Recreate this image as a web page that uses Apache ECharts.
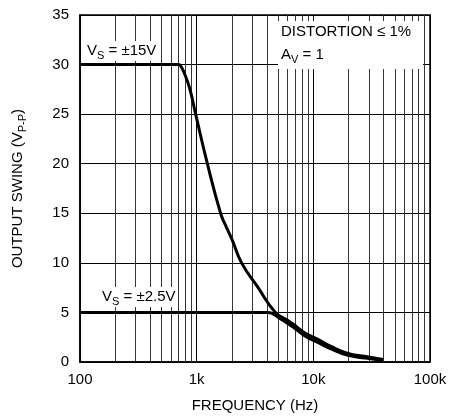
<!DOCTYPE html>
<html>
<head>
<meta charset="utf-8">
<script src="https://cdn.jsdelivr.net/npm/echarts@6/dist/echarts.min.js"></script>
<style>
html,body{margin:0;padding:0;background:#fff;}
#c{width:450px;height:418px;}
</style>
</head>
<body>
<div id="c"></div>
<script>
// Data
const freq15 = [100, 700, 735, 779, 871, 980, 1235, 1603, 1750, 2018, 2427, 3320, 4732, 6000, 6745, 8544, 10820, 14000, 19500, 28000, 39650];
const swing15 = [30, 30, 29.8, 29.2, 27.6, 25, 20, 15, 13.9, 12.3, 10, 7.6, 5, 4.2, 3.8, 2.9, 2.3, 1.6, 0.9, 0.55, 0.25];
const freq25 = [100, 4000, 4250, 4600, 4898, 5500, 6745, 8544, 10820, 14000, 19500, 28000, 39650];
const swing25 = [5, 5, 4.97, 4.8, 4.6, 4.2, 3.5, 2.6, 2.0, 1.35, 0.7, 0.4, 0.15];
const xTickValues = [100, 1000, 10000, 100000];
const xTickLabels = ['100', '1k', '10k', '100k'];
const minorFreqs = [200,300,400,500,600,700,800,900,2000,3000,4000,5000,6000,7000,8000,9000,20000,30000,40000,50000,60000,70000,80000,90000];

const FONT = 'Liberation Sans, Arial, sans-serif';
const chart = echarts.init(document.getElementById('c'), null, {renderer: 'canvas'});
const pair = (xs, ys) => xs.map((x, i) => [x, ys[i]]);
const sub = {fontSize: 11, fontFamily: FONT, color: '#000', verticalAlign: 'bottom', lineHeight: 11};

chart.setOption({
  animation: false,
  backgroundColor: '#fff',
  grid: {left: 79, right: 20, top: 15, bottom: 52, show: true, borderColor: '#000', borderWidth: 1.5, backgroundColor: 'transparent'},
  xAxis: {
    type: 'log', logBase: 10, min: 100, max: 100000,
    name: 'FREQUENCY (Hz)', nameLocation: 'middle', nameGap: 36,
    nameTextStyle: {fontSize: 15, fontFamily: FONT, color: '#000'},
    axisLine: {lineStyle: {color: '#000', width: 1.5}},
    axisTick: {show: false},
    axisLabel: {fontSize: 15, fontFamily: FONT, color: '#000', margin: 10,
      formatter: v => { const i = xTickValues.findIndex(t => Math.abs(t - v) / t < 1e-6); return i >= 0 ? xTickLabels[i] : ''; }},
    splitLine: {show: true, lineStyle: {color: '#000', width: 1}}
  },
  yAxis: {
    type: 'value', min: 0, max: 35, interval: 5,
    name: 'OUTPUT SWING (V{s|P-P})', nameLocation: 'middle', nameGap: 52,
    nameTextStyle: {fontSize: 15, fontFamily: FONT, color: '#000', lineHeight: 20, rich: {s: sub}},
    axisLine: {lineStyle: {color: '#000', width: 1.5}},
    axisTick: {show: false},
    axisLabel: {fontSize: 15, fontFamily: FONT, color: '#000', margin: 11},
    splitLine: {show: true, lineStyle: {color: '#000', width: 1}}
  },
  series: [
    {
      type: 'line', data: [], silent: true, showSymbol: false, z: 1,
      markLine: {silent: true, symbol: ['none', 'none'], label: {show: false},
        lineStyle: {color: '#333', width: 1, type: 'solid'},
        data: minorFreqs.map(v => ({xAxis: v}))}
    },
    {type: 'line', data: pair(freq15, swing15), showSymbol: false, smooth: 0.5,
      lineStyle: {color: '#000', width: 3}, z: 5},
    {type: 'line', data: pair(freq25, swing25), showSymbol: false, smooth: 0.5,
      lineStyle: {color: '#000', width: 3}, z: 5}
  ],
  graphic: [
    {type: 'text', left: 85, top: 41, z: 100,
      style: {text: 'V{s|S} = ±15V', font: '15px ' + FONT, fill: '#000', lineHeight: 20, backgroundColor: '#fff', padding: [0, 2], rich: {s: sub}}},
    {type: 'text', left: 100, top: 287, z: 100,
      style: {text: 'V{s|S} = ±2.5V', font: '15px ' + FONT, fill: '#000', lineHeight: 20, backgroundColor: '#fff', padding: [0, 2], rich: {s: sub}}},
    {type: 'rect', left: 278, top: 21, z: 99, shape: {width: 145, height: 48}, style: {fill: '#fff'}},
    {type: 'text', left: 281, top: 24, z: 100,
      style: {text: 'DISTORTION ≤ 1%', font: '15px ' + FONT, fill: '#000'}},
    {type: 'text', left: 281, top: 45, z: 100,
      style: {text: 'A{s|V} = 1', font: '15px ' + FONT, fill: '#000', lineHeight: 20, rich: {s: sub}}}
  ]
});
</script>
</body>
</html>
